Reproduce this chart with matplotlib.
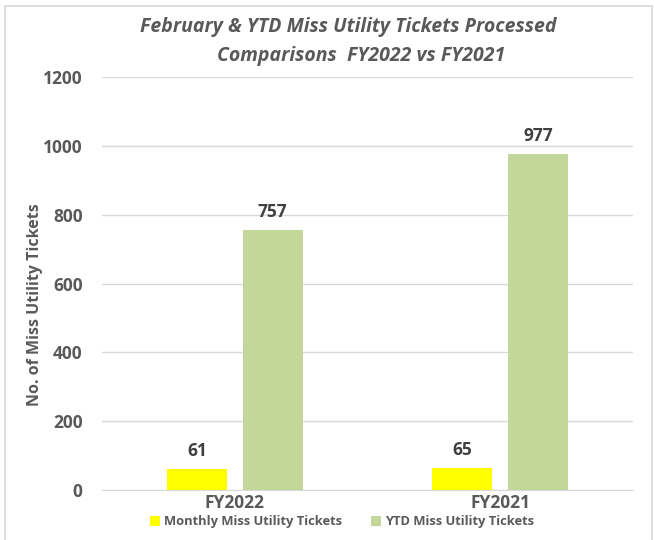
import matplotlib.pyplot as plt
from matplotlib.patches import Rectangle
import numpy as np

plt.rcParams['font.family'] = ['Open Sans', 'DejaVu Sans']

categories = ['FY2022', 'FY2021']
series_names = ['Monthly Miss Utility Tickets', 'YTD Miss Utility Tickets']
monthly = [61, 65]
ytd = [757, 977]
colors = ['#ffff00', '#c4d79b']

text_dark = '#595959'
label_dark = '#404040'

fig = plt.figure(figsize=(6.54, 5.40), dpi=100)
ax = fig.add_axes([0.156, 0.0926, 0.812, 0.7644])

# chart border
fig.patches.append(Rectangle((5 / 654, -0.01), 647 / 654, 1 - 6 / 540 + 0.01,
                             transform=fig.transFigure, fill=False,
                             edgecolor='#d9d9d9', linewidth=1.2))

x = np.arange(len(categories))
w = 0.226
off = 0.143
b1 = ax.bar(x - off, monthly, w, color=colors[0], label=series_names[0], zorder=3)
b2 = ax.bar(x + off, ytd, w, color=colors[1], label=series_names[1], zorder=3)

for bars, vals in [(b1, monthly), (b2, ytd)]:
    for rect, v in zip(bars, vals):
        ax.text(rect.get_x() + rect.get_width() / 2, v + 26, str(v),
                ha='center', va='bottom', fontsize=12.5, fontweight='bold',
                color=label_dark)

ax.set_xlim(-0.5, 1.5)
ax.set_ylim(0, 1200)
ax.set_yticks(range(0, 1201, 200))
ax.set_xticks(x)
ax.set_xticklabels(categories)
ax.grid(axis='y', color='#d9d9d9', linewidth=1, zorder=0)
for s in ['top', 'right', 'left']:
    ax.spines[s].set_visible(False)
ax.spines['bottom'].set_color('#d9d9d9')
ax.tick_params(axis='both', length=0, labelsize=12.5, labelcolor=text_dark)
ax.tick_params(axis='y', pad=14)
ax.tick_params(axis='x', pad=3)
for lbl in ax.get_xticklabels() + ax.get_yticklabels():
    lbl.set_fontweight('bold')

fig.text(35 / 654, 1 - 305 / 540, 'No. of Miss Utility Tickets', rotation=90,
         ha='center', va='center', fontsize=11.5, fontweight='bold', color=text_dark)

fig.text(0.533, 1 - 27 / 540, 'February & YTD Miss Utility Tickets Processed',
         ha='center', va='center', fontsize=14, fontstyle='italic',
         fontweight='bold', color=text_dark)
fig.text(0.552, 1 - 56 / 540, 'Comparisons  FY2022 vs FY2021',
         ha='center', va='center', fontsize=14, fontstyle='italic',
         fontweight='bold', color=text_dark)

fig.legend(loc='center', bbox_to_anchor=(0.523, 1 - 522 / 540), ncol=2,
           frameon=False, prop={'size': 9.3, 'weight': 'bold'},
           labelcolor=text_dark, handlelength=0.8, handleheight=0.8,
           handletextpad=0.3, columnspacing=2.2)

fig.savefig('out.png', dpi=100)
